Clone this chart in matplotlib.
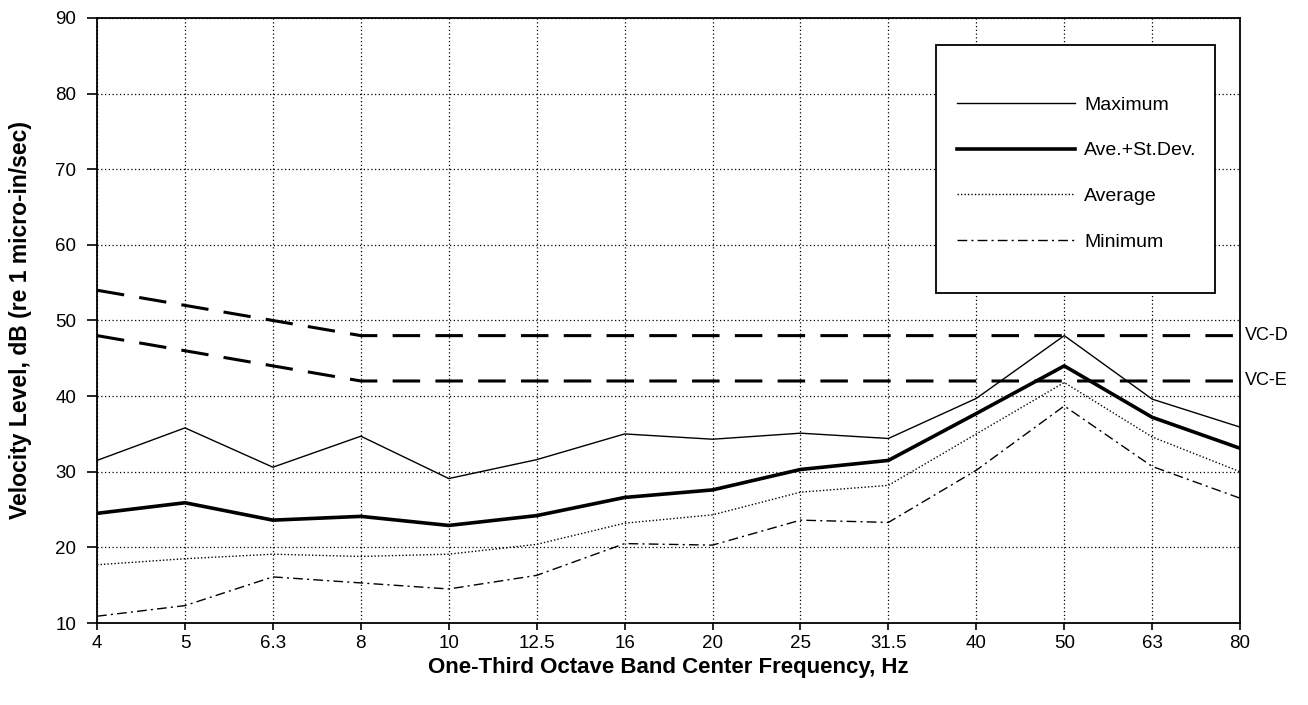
import matplotlib.pyplot as plt
from matplotlib.patches import Rectangle

plt.rcParams['font.family'] = ['Liberation Sans', 'DejaVu Sans']

freqs = ['4', '5', '6.3', '8', '10', '12.5', '16', '20', '25', '31.5', '40', '50', '63', '80']
maximum = [31.5, 35.8, 30.6, 34.7, 29.1, 31.6, 35.0, 34.3, 35.1, 34.4, 39.7, 48.0, 39.6, 35.9]
ave_sd = [24.5, 25.9, 23.6, 24.1, 22.9, 24.2, 26.6, 27.6, 30.3, 31.5, 37.7, 44.0, 37.2, 33.1]
average = [17.7, 18.5, 19.1, 18.8, 19.1, 20.4, 23.2, 24.3, 27.3, 28.2, 35.0, 41.8, 34.6, 30.0]
minimum = [10.9, 12.3, 16.1, 15.3, 14.5, 16.3, 20.5, 20.3, 23.6, 23.3, 30.2, 38.7, 30.7, 26.5]
vc_d = [54, 52, 50, 48, 48, 48, 48, 48, 48, 48, 48, 48, 48, 48]
vc_e = [48, 46, 44, 42, 42, 42, 42, 42, 42, 42, 42, 42, 42, 42]

x = list(range(len(freqs)))

fig = plt.figure(figsize=(13.08, 7.05), dpi=100)
ax = fig.add_axes([0.0742, 0.1163, 0.8739, 0.8582])

l1, = ax.plot(x, maximum, color='black', lw=1.0, label='Maximum')
l2, = ax.plot(x, ave_sd, color='black', lw=2.6, label='Ave.+St.Dev.')
l3, = ax.plot(x, average, color='black', lw=1.0, linestyle=(0, (1, 1.5)), label='Average')
l4, = ax.plot(x, minimum, color='black', lw=1.0, linestyle=(0, (7, 3, 1.5, 3)), label='Minimum')
ax.plot(x, vc_d, color='black', lw=2.2, linestyle=(0, (9, 5)))
ax.plot(x, vc_e, color='black', lw=2.2, linestyle=(0, (9, 5)))

ax.text(1.004, 48, 'VC-D', transform=ax.get_yaxis_transform(), va='center', ha='left', fontsize=13)
ax.text(1.004, 42, 'VC-E', transform=ax.get_yaxis_transform(), va='center', ha='left', fontsize=13)

ax.set_xlim(0, len(freqs) - 1)
ax.set_ylim(10, 90)
ax.set_xticks(x)
ax.set_xticklabels(freqs, fontsize=13.5)
ax.set_yticks(range(10, 91, 10))
ax.tick_params(axis='y', labelsize=13.5, direction='out', length=7, width=1.2, pad=8)
ax.tick_params(axis='x', direction='out', length=5, width=1.2, pad=3.5)
ax.grid(True, color='black', lw=0.9, linestyle=(0, (1, 2)))
for s in ax.spines.values():
    s.set_linewidth(1.3)

ax.set_xlabel('One-Third Octave Band Center Frequency, Hz', fontsize=16, fontweight='bold', labelpad=4)
ax.set_ylabel('Velocity Level, dB (re 1 micro-in/sec)', fontsize=16.5, fontweight='bold', labelpad=17)

box = Rectangle((0.734, 0.545), 0.244, 0.41, transform=ax.transAxes, facecolor='white',
                edgecolor='black', lw=1.3, zorder=4)
ax.add_patch(box)
leg = ax.legend(handles=[l1, l2, l3, l4], loc='center', bbox_to_anchor=(0.857, 0.743),
                frameon=False, fontsize=14, handlelength=6.1, handletextpad=0.46,
                labelspacing=1.44)
leg.set_zorder(5)

fig.savefig('out.png', dpi=100)
